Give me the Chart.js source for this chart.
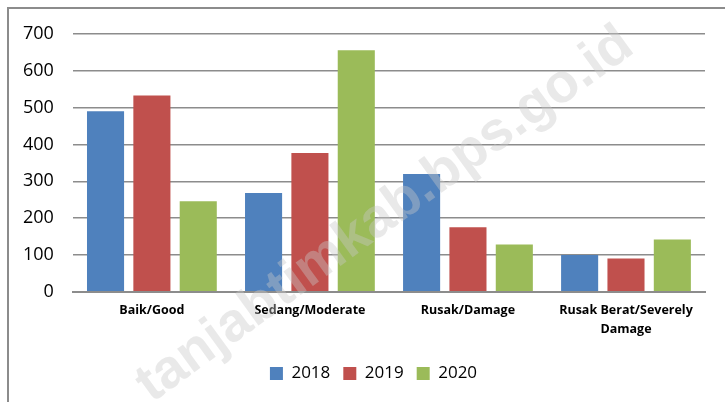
<!DOCTYPE html>
<html>
<head>
<meta charset="utf-8">
<script src="https://cdn.jsdelivr.net/npm/chart.js@4/dist/chart.umd.min.js"></script>
<style>
  html, body { margin: 0; padding: 0; background: #fff; }
  #wrap { width: 725px; height: 402px; }
</style>
</head>
<body>
<div id="wrap"><canvas id="grafik"></canvas></div>
<script>
var kategori = ["Baik/Good", "Sedang/Moderate", "Rusak/Damage", ["Rusak Berat/Severely", "Damage"]];
var tahun = ["2018", "2019", "2020"];
var nilai2018 = [490, 268, 320, 100];
var nilai2019 = [533, 377, 175, 90];
var nilai2020 = [246, 656, 128, 142];
var warna = ["#4F81BD", "#C0504D", "#9BBB59"];

// bingkai, geser legenda, watermark
var bingkai = {
    id: "bingkai",
    afterLayout: function(chart) {
        chart.legend.left += 19;
        chart.legend.right += 19;
    },
    beforeDraw: function(chart) {
        var c = chart.ctx;
        c.save();
        c.strokeStyle = "#8c8c8c";
        c.lineWidth = 2;
        c.beginPath();
        c.moveTo(8, chart.height);
        c.lineTo(8, 8);
        c.lineTo(chart.width, 8);
        c.stroke();
        c.restore();
    },
    afterDraw: function(chart) {
        var c = chart.ctx;
        c.save();
        c.translate(385, 215);
        c.rotate(-36 * Math.PI / 180);
        c.font = "bold 55px 'Liberation Sans'";
        c.fillStyle = "rgba(200,200,200,0.4)";
        c.textAlign = "center";
        c.textBaseline = "middle";
        c.fillText("tanjabtimkab.bps.go.id", 0, 0);
        c.restore();
    }
};

new Chart("grafik", {
    type: "bar",
    data: {
        labels: kategori,
        datasets: [
            { label: tahun[0], data: nilai2018, backgroundColor: warna[0] },
            { label: tahun[1], data: nilai2019, backgroundColor: warna[1] },
            { label: tahun[2], data: nilai2020, backgroundColor: warna[2] }
        ]
    },
    options: {
        responsive: true,
        maintainAspectRatio: false,
        animation: false,
        layout: { padding: { left: 4, right: 20, top: 34, bottom: 10 } },
        datasets: { bar: { categoryPercentage: 0.88, barPercentage: 0.8 } },
        scales: {
            x: {
                grid: { display: false },
                border: { color: "#8c8c8c", width: 2 },
                afterFit: function(s) { s.height += 12; },
                ticks: {
                    color: "#000",
                    padding: 2,
                    maxRotation: 0,
                    font: { family: "'Open Sans'", size: 12.5, weight: "bold", lineHeight: 1.45 }
                }
            },
            y: {
                min: 0,
                max: 700,
                ticks: {
                    stepSize: 100,
                    color: "#000",
                    padding: 19,
                    font: { family: "'Open Sans'", size: 18 }
                },
                grid: { color: "#8c8c8c", lineWidth: 1.5, drawTicks: false },
                border: { display: false }
            }
        },
        plugins: {
            legend: {
                position: "bottom",
                labels: {
                    color: "#000",
                    boxWidth: 13,
                    boxHeight: 13,
                    padding: 13,
                    font: { family: "'Open Sans'", size: 17 }
                }
            },
            tooltip: { enabled: false }
        }
    },
    plugins: [bingkai]
});
</script>
</body>
</html>
